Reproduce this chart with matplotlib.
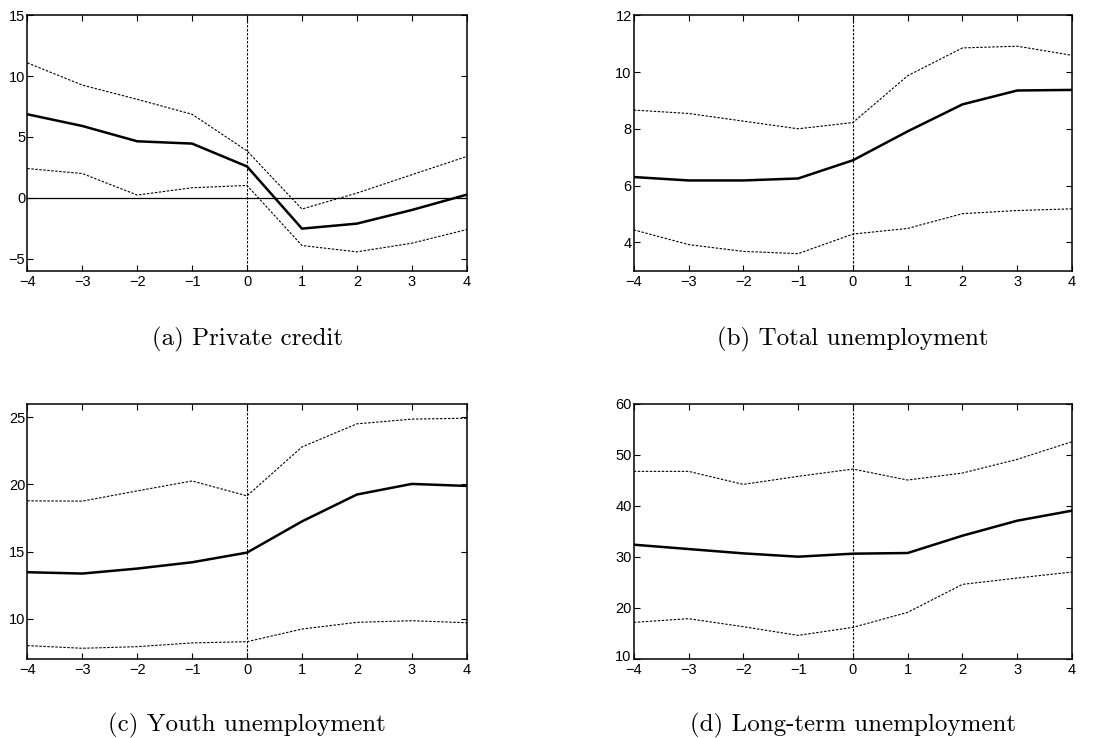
import matplotlib
matplotlib.use("Agg")
from matplotlib import pyplot as plt
from matplotlib.transforms import ScaledTranslation

plt.rcParams['font.family'] = ['Liberation Sans', 'DejaVu Sans']

horizon = [-4, -3, -2, -1, 0, 1, 2, 3, 4]

# (a) Private credit
credit_mid = [6.86, 5.90, 4.64, 4.45, 2.57, -2.54, -2.13, -1.01, 0.25]
credit_hi = [11.09, 9.26, 8.09, 6.86, 3.85, -0.93, 0.38, 1.89, 3.39]
credit_lo = [2.40, 1.99, 0.22, 0.82, 1.01, -3.93, -4.45, -3.74, -2.62]

# (b) Total unemployment
total_mid = [6.30, 6.18, 6.18, 6.25, 6.89, 7.91, 8.86, 9.35, 9.37]
total_hi = [8.66, 8.54, 8.27, 8.00, 8.22, 9.87, 10.85, 10.91, 10.59]
total_lo = [4.44, 3.92, 3.68, 3.60, 4.29, 4.49, 5.01, 5.12, 5.18]

# (c) Youth unemployment
youth_mid = [13.46, 13.36, 13.73, 14.20, 14.92, 17.24, 19.24, 20.03, 19.88]
youth_hi = [18.77, 18.75, 19.51, 20.25, 19.14, 22.78, 24.50, 24.85, 24.92]
youth_lo = [8.00, 7.80, 7.92, 8.20, 8.29, 9.23, 9.73, 9.85, 9.70]

# (d) Long-term unemployment
long_mid = [32.39, 31.54, 30.69, 30.04, 30.63, 30.76, 34.15, 37.09, 39.05]
long_hi = [46.75, 46.75, 44.20, 45.77, 47.20, 45.05, 46.42, 49.10, 52.56]
long_lo = [17.18, 17.90, 16.33, 14.63, 16.20, 19.14, 24.62, 25.86, 27.04]

panels = [
    ("(a) Private credit", credit_mid, credit_hi, credit_lo, (-6, 15), [-5, 0, 5, 10, 15], True),
    ("(b) Total unemployment", total_mid, total_hi, total_lo, (3, 12), [4, 6, 8, 10, 12], False),
    ("(c) Youth unemployment", youth_mid, youth_hi, youth_lo, (7, 26), [10, 15, 20, 25], False),
    ("(d) Long-term unemployment", long_mid, long_hi, long_lo, (10, 60), [10, 20, 30, 40, 50, 60], False),
]

# axes boxes in figure fractions
boxes = [
    [0.0247, 0.6332, 0.3969, 0.3461],
    [0.5725, 0.6332, 0.3959, 0.3461],
    [0.0247, 0.1070, 0.3969, 0.3460],
    [0.5725, 0.1070, 0.3959, 0.3460],
]
cap_y = [0.5325, 0.5325, 0.0095, 0.0095]  # caption baselines

fig = plt.figure(figsize=(11.07, 7.38), dpi=100)
for i, (title, mid, hi, lo, ylim, yt, zero) in enumerate(panels):
    ax = fig.add_axes(boxes[i])
    ax.plot(horizon, hi, color='black', lw=0.8, dashes=(2.2, 1.4))
    ax.plot(horizon, lo, color='black', lw=0.8, dashes=(2.2, 1.4))
    ax.plot(horizon, mid, color='black', lw=1.8)
    ax.axvline(0, color='black', lw=0.8, dashes=(2.2, 1.4))
    if zero:
        ax.axhline(0, color='black', lw=0.9)
    ax.set_xlim(-4, 4)
    ax.set_ylim(*ylim)
    ax.set_xticks(horizon)
    ax.set_yticks(yt)
    ax.tick_params(direction='in', top=True, right=True, length=4, width=0.8,
                   labelsize=10.5)
    ax.tick_params(axis='x', pad=3)
    ax.tick_params(axis='y', pad=1.5)
    for s in ax.spines.values():
        s.set_linewidth(1.1)
    if yt[0] == ylim[0]:
        # bottom y label sits on the axis corner, nudge it up like the original
        lab = ax.get_yticklabels()[0]
        lab.set_transform(lab.get_transform() + ScaledTranslation(0, 2.5 / 72, fig.dpi_scale_trans))
    b = boxes[i]
    fig.text(b[0] + b[2] / 2, cap_y[i], title,
             ha='center', va='baseline', fontsize=18, family='cmr10')

fig.savefig("out.png", dpi=100)
